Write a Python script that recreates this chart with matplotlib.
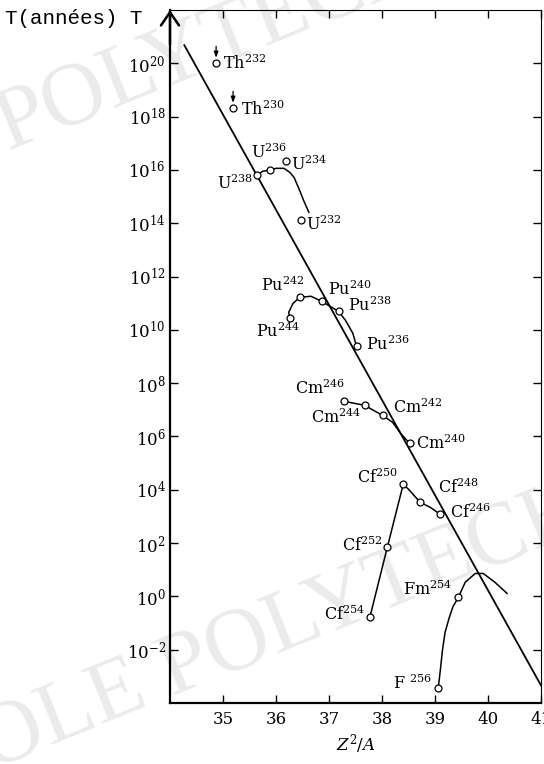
import matplotlib
matplotlib.use('Agg')
import matplotlib.pyplot as plt
from matplotlib.ticker import LogFormatterMathtext

plt.rcParams['font.family'] = 'DejaVu Serif'
plt.rcParams['mathtext.fontset'] = 'dejavuserif'

# nuclides: Z^2/A and log10 of the half-life T (years)
symbols = ['Th', 'Th', 'U', 'U', 'U', 'U',
           'Pu', 'Pu', 'Pu', 'Pu', 'Pu',
           'Cm', 'Cm', 'Cm', 'Cm',
           'Cf', 'Cf', 'Cf', 'Cf', 'Cf',
           'Fm', 'F ']
masses = [232, 230, 238, 236, 234, 232,
          244, 242, 240, 238, 236,
          246, 244, 242, 240,
          254, 252, 250, 248, 246,
          254, 256]
z2a = [34.87, 35.19, 35.64, 35.88, 36.18, 36.47,
       36.26, 36.45, 36.86, 37.18, 37.52,
       37.28, 37.67, 38.01, 38.52,
       37.77, 38.10, 38.40, 38.72, 39.10,
       39.44, 39.06]
logT = [20.0, 18.31, 15.80, 15.99, 16.32, 14.11,
        10.43, 11.22, 11.07, 10.69, 9.38,
        7.32, 7.17, 6.79, 5.74,
        -0.79, 1.84, 4.20, 3.53, 3.08,
        -0.04, -3.45]
lower_limit = ['Th232', 'Th230']  # points drawn with a small arrow

# hand-drawn curves joining the isotopes of each element
u_x = [35.64, 35.75, 35.88, 36.00, 36.15, 36.26, 36.34, 36.43, 36.52, 36.62]
u_logT = [15.80, 15.95, 15.99, 16.06, 16.06, 15.91, 15.72, 15.31, 14.86, 14.41]
pu_x = [36.26, 36.24, 36.32, 36.45, 36.66, 36.86, 36.99, 37.18, 37.31, 37.45, 37.52]
pu_logT = [10.43, 10.66, 10.99, 11.22, 11.26, 11.07, 10.92, 10.69, 10.36, 9.87, 9.38]
cm_x = [37.28, 37.67, 38.01, 38.20, 38.35, 38.52]
cm_logT = [7.32, 7.17, 6.79, 6.53, 6.12, 5.74]
cf_x = [37.77, 38.10, 38.40, 38.50, 38.72, 38.91, 39.10]
cf_logT = [-0.79, 1.84, 4.20, 4.02, 3.53, 3.34, 3.08]
fm_x = [39.06, 39.10, 39.14, 39.19, 39.27, 39.34, 39.44, 39.57, 39.76, 39.91, 40.13, 40.36]
fm_logT = [-3.45, -2.78, -2.03, -1.35, -0.79, -0.38, -0.04, 0.53, 0.86, 0.86, 0.53, 0.11]

# straight trend line
trend_x = [34.27, 41.02]
trend_logT = [20.68, -3.41]

x_ticks = [35, 36, 37, 38, 39, 40, 41]
y_exponents = [-2, 0, 2, 4, 6, 8, 10, 12, 14, 16, 18, 20]

# label placement (pixel offsets from the point, alignment)
label_pos = {
    'Th232': (7, 0, 'left'), 'Th230': (8, -1, 'left'),
    'U238': (-4, -8, 'right'), 'U236': (-1, 18, 'center'),
    'U234': (5, -3, 'left'), 'U232': (5, -4, 'left'),
    'Pu244': (-12, -13, 'center'), 'Pu242': (-17, 12, 'center'),
    'Pu240': (6, 12, 'left'), 'Pu238': (9, 6, 'left'), 'Pu236': (9, 2, 'left'),
    'Cm246': (-24, 13, 'center'), 'Cm244': (-28, -12, 'center'),
    'Cm242': (10, 8, 'left'), 'Cm240': (6, 0, 'left'),
    'Cf254': (-5, 3, 'right'), 'Cf252': (-5, 2, 'right'), 'Cf250': (-5, 7, 'right'),
    'Cf248': (18, 15, 'left'), 'Cf246': (10, 2, 'left'),
    'Fm254': (-6, 8, 'right'), 'F 256': (-6, 5, 'right'),
}

fig = plt.figure(figsize=(5.44, 7.64), dpi=100)
ax = fig.add_axes([170 / 544, 61 / 764, 371 / 544, 693 / 764])
ax.patch.set_visible(False)

# faint watermark behind the drawing
wm = dict(fontsize=64, color='#ebebeb', rotation=22, rotation_mode='anchor',
          ha='left', va='baseline', family='Liberation Serif', zorder=-5)
fig.text(8 / 544, 1 - 150 / 764, 'POLYTECHNIQUE', **wm)
fig.text(-115 / 544, 1 - 812 / 764, 'ÉCOLE POLYTECHNIQUE', **wm)

ax.set_yscale('log')
ax.plot(trend_x, [10.0 ** v for v in trend_logT], color='black', lw=1.3, zorder=2)
for cx, cy in [(u_x, u_logT), (pu_x, pu_logT), (cm_x, cm_logT), (cf_x, cf_logT), (fm_x, fm_logT)]:
    ax.plot(cx, [10.0 ** v for v in cy], color='black', lw=1.1, zorder=2)

ax.plot(z2a, [10.0 ** v for v in logT], 'o', ms=5, mfc='white', mec='black', mew=0.9,
        zorder=3, ls='none')

for sym, m, x, y in zip(symbols, masses, z2a, logT):
    key = f'{sym}{m}'
    dx, dy, ha = label_pos[key]
    ax.annotate(f'{sym}$^{{{m}}}$', (x, 10.0 ** y), xytext=(dx, dy),
                textcoords='offset pixels', ha=ha, va='center', fontsize=11.5)
    if key in lower_limit:
        ax.annotate('', (x, 10.0 ** y), xytext=(0, 17), textcoords='offset pixels',
                    arrowprops=dict(arrowstyle='-|>,head_length=0.35,head_width=0.13',
                                    color='black', lw=0.9, shrinkA=0, shrinkB=4))

ax.set_xlim(34, 41)
ax.set_ylim(1e-4, 1e22)
ax.set_xticks(x_ticks)
ax.set_yticks([10.0 ** e for e in y_exponents])
ax.yaxis.set_major_formatter(LogFormatterMathtext())
ax.minorticks_off()
ax.tick_params(direction='in', length=6, width=1.0, top=True, right=True,
               labelsize=12)
ax.tick_params(axis='y', pad=3)
ax.tick_params(axis='x', pad=6)

for side in ['left', 'bottom']:
    ax.spines[side].set_linewidth(1.6)
for side in ['top', 'right']:
    ax.spines[side].set_linewidth(0.8)

ax.set_xlabel('$Z^2/A$', fontsize=12, labelpad=3)

# arrow head at the top of the T axis, and its label
ax.annotate('', (0, 1), xytext=(0, 0.95), xycoords='axes fraction',
            arrowprops=dict(arrowstyle='->,head_length=0.95,head_width=0.65',
                            color='black', lw=1.8, shrinkA=0, shrinkB=0))
fig.text(5 / 544, 1 - 18 / 764, 'T(années) T', family='Liberation Mono',
         fontsize=15, va='center', ha='left')

fig.savefig('out.png', dpi=100)
